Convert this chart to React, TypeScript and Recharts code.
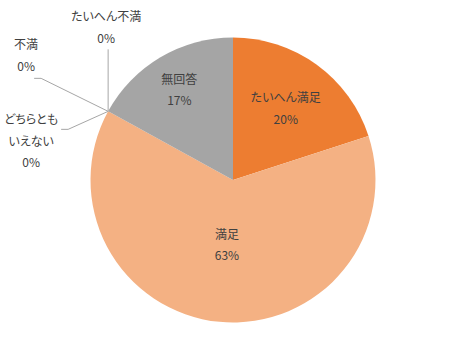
import React from "react";
import { PieChart, Pie, Cell } from "recharts";

const categories = ["たいへん満足", "満足", "どちらともいえない", "不満", "たいへん不満", "無回答"];
const labelLines = [["たいへん満足"], ["満足"], ["どちらとも", "いえない"], ["不満"], ["たいへん不満"], ["無回答"]];
const values = [20, 63, 0, 0, 0, 17];
const colors = ["#ED7D31", "#F4B183", "#A9D18E", "#FFC000", "#5B9BD5", "#A5A5A5"];

const data = categories.map((name, i) => ({ name, value: values[i] }));

const CX = 233;
const CY = 180;
const R = 142.5;
const LINE_H = 21.5;
const TEXT_COLOR = "#404040";
const LEADER = "#A6A6A6";

// inside-label radius factor per slice (null = outside label)
const insideFactor: (number | null)[] = [0.63, 0.45, null, null, null, 0.74];
// outside label layout: leader polyline offsets and text block center offset, relative to slice edge point
const outsideLayout: Record<number, { line: [number, number][]; text: [number, number] }> = {
  2: { line: [[0, 0], [-40, 18], [-47, 18]], text: [-77, 29] },
  3: { line: [[0, 0], [-67, -33], [-74, -33]], text: [-82, -57] },
  4: { line: [[0, 0], [0, -62]], text: [-2, -85] },
};

const total = values.reduce((a, b) => a + b, 0);

const renderLabel = (props: any) => {
  const { index, cx, cy, outerRadius, startAngle, endAngle } = props;
  const mid = (startAngle + endAngle) / 2; // recharts degrees, ccw from 3 o'clock
  const rad = (mid * Math.PI) / 180;
  const pct = `${Math.round((values[index] / total) * 100)}%`;
  const lines = [...labelLines[index], pct];
  const f = insideFactor[index];
  let tx: number;
  let ty: number;
  let leader: React.ReactNode = null;
  if (f !== null && f !== undefined) {
    tx = cx + outerRadius * f * Math.cos(rad);
    ty = cy - outerRadius * f * Math.sin(rad);
  } else {
    const ax = cx + outerRadius * Math.cos(rad);
    const ay = cy - outerRadius * Math.sin(rad);
    const lay = outsideLayout[index];
    const pts = lay.line.map(([dx, dy]) => `${ax + dx},${ay + dy}`).join(" ");
    leader = <polyline points={pts} fill="none" stroke={LEADER} strokeWidth={1} />;
    tx = ax + lay.text[0];
    ty = ay + lay.text[1];
  }
  const n = lines.length;
  return (
    <g key={`lbl-${index}`}>
      {leader}
      {lines.map((t, k) => (
        <text
          key={k}
          x={tx}
          y={ty + (k - (n - 1) / 2) * LINE_H}
          textAnchor="middle"
          dominantBaseline="central"
          fill={TEXT_COLOR}
          fontSize={12}
          fontFamily="'Noto Sans CJK JP', 'Noto Sans', sans-serif"
          style={{ fontFeatureSettings: '"palt"' }}
        >
          {t}
        </text>
      ))}
    </g>
  );
};

export default function App() {
  return (
    <div style={{ position: "absolute", left: 0, top: 0, width: 466, height: 359, background: "#fff" }}>
      <PieChart width={466} height={359} margin={{ top: 0, right: 0, bottom: 0, left: 0 }}>
        <Pie
          data={data}
          dataKey="value"
          nameKey="name"
          cx={CX}
          cy={CY}
          outerRadius={R}
          startAngle={90}
          endAngle={-270}
          stroke="none"
          label={renderLabel}
          labelLine={false}
          isAnimationActive={false}
        >
          {data.map((d, i) => (
            <Cell key={d.name} fill={colors[i]} />
          ))}
        </Pie>
      </PieChart>
    </div>
  );
}
